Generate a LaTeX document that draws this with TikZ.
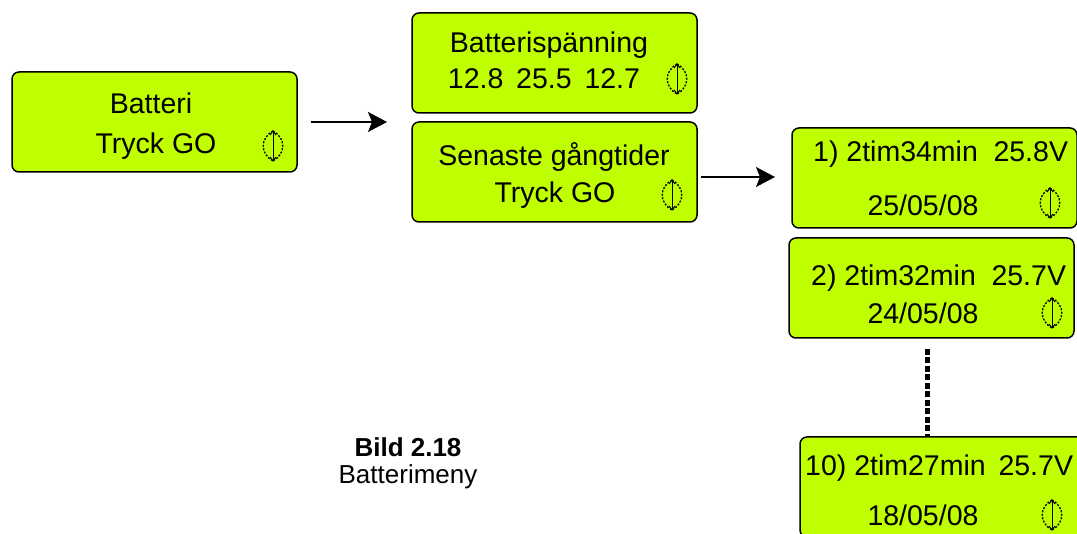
\documentclass[tikz,border=0pt]{standalone}
\usepackage{fontspec}
\setmainfont{Liberation Sans}
\usetikzlibrary{arrows.meta}
\definecolor{lcd}{RGB}{192,255,0}
\tikzset{
  x=1pt,y=-1pt,
  lcdbox/.style={rectangle, rounded corners=7pt,
    draw=black, line width=1.5pt, fill=lcd, minimum width=285pt, minimum height=100pt, inner sep=0pt},
  txt/.style={font=\fontsize{28.5}{32}\selectfont, inner sep=0pt},
  captxt/.style={font=\fontsize{26}{30}\selectfont, inner sep=0pt},
  conn/.style={line width=1.5pt, -{Stealth[length=19pt,width=20pt,inset=4pt]}},
  updown/.pic={
    \draw[line width=1pt] (0,-15) -- (0,15);
    \draw[line width=1pt] (-3,-11) -- (0,-15) -- (3,-11);
    \draw[line width=1pt] (-3,11) -- (0,15) -- (3,11);
    \draw[line width=1.3pt, dash pattern=on 2pt off 1.5pt] (0,-15) .. controls (-13,-8) and (-13,8) .. (0,15);
    \draw[line width=1.3pt, dash pattern=on 2pt off 1.5pt] (0,-15) .. controls (13,-8) and (13,8) .. (0,15);
  }
}
\begin{document}
\begin{tikzpicture}
\useasboundingbox (0,0) rectangle (1077,534);
\clip (0,0) rectangle (1077,534);
% boxes
\node[lcdbox] (b1) at (154.5,122) {};
\node[lcdbox] (b2) at (554.5,63) {};
\node[lcdbox] (b3) at (554.5,172) {};
\node[lcdbox] (b4) at (934.5,178) {};
\node[lcdbox] (b5) at (931.5,288) {};
\node[lcdbox] (b6) at (942.5,487) {};
% texts
\node[txt] (t1a) at (151,103) {Batteri};
\node[txt] (t1b) at (156,146) {Tryck GO};
\pic at (273,146) {updown};
\node[txt] (t2a) at (549,45) {Batterispänning};
\node[txt] (t2b) at (544,79) {12.8\hspace{0.45em}25.5\hspace{0.45em}12.7};
\pic at (677,79) {updown};
\node[txt] (t3a) at (554,157) {Senaste gångtider};
\node[txt] (t3b) at (555,195) {Tryck GO};
\pic at (672,195) {updown};
\node[txt,anchor=west] (t4a) at (813,154) {1) 2tim34min\hspace{0.55em}25.8V};
\node[txt] (t4b) at (923,205) {25/05/08};
\pic at (1050,203) {updown};
\node[txt,anchor=west] (t5a) at (811,278) {2) 2tim32min\hspace{0.55em}25.7V};
\node[txt] (t5b) at (923,313) {24/05/08};
\pic at (1052,313) {updown};
\node[txt,anchor=west] (t6a) at (805,468) {10) 2tim27min\hspace{0.45em}25.7V};
\node[txt] (t6b) at (923,515) {18/05/08};
\pic at (1052,515) {updown};
% connectors
\coordinate (e1) at (387,122);
\coordinate (e2) at (775,177);
\coordinate (dx) at (927,0);
\draw[conn, shorten <=13pt] (b1.east |- e1) -- (e1);
\draw[conn, shorten <=3pt] (b3.east |- e2) -- (e2);
\draw[line width=5pt, dash pattern=on 6pt off 2.5pt] (b5.south -| dx) ++(0,10) -- (b6.north -| dx);
% caption
\node[captxt, font=\fontsize{26}{30}\selectfont\bfseries] (c1) at (408,447) {Bild 2.18};
\node[captxt] (c2) at (408,477) {Batterimeny};
\end{tikzpicture}
\end{document}
